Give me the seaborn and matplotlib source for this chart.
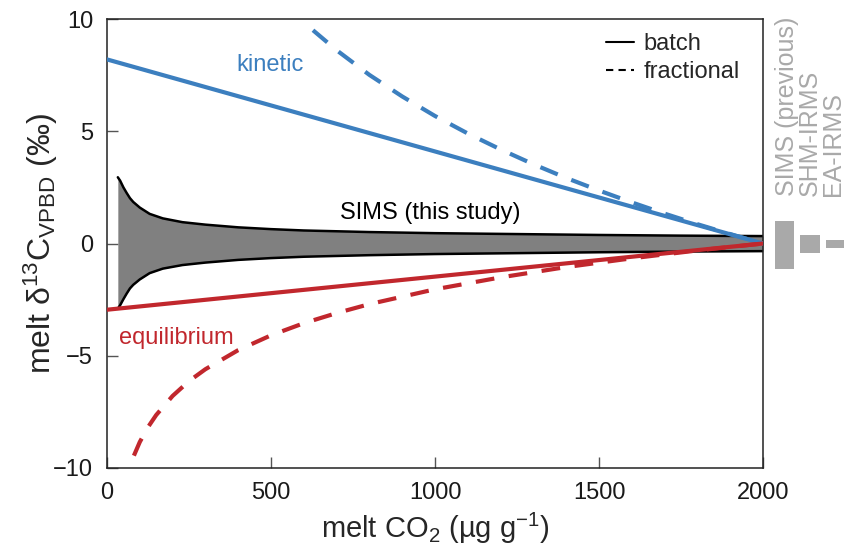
import matplotlib
matplotlib.use("Agg")
import matplotlib.pyplot as plt
import seaborn as sns
import numpy as np
from matplotlib.lines import Line2D

# ---------------- data ----------------
kin_batch_x = [0, 2000]
kin_batch_y = [8.2, 0.0]

kin_frac_x = [628, 700, 800, 900, 1000, 1100, 1200, 1300, 1400, 1500, 1600, 1700, 1800, 1900, 2000]
kin_frac_y = [9.50, 8.61, 7.51, 6.55, 5.68, 4.90, 4.19, 3.53, 2.92, 2.36, 1.83, 1.33, 0.86, 0.42, 0.0]

eq_batch_x = [0, 2000]
eq_batch_y = [-2.95, 0.0]

eq_frac_x = [82, 100, 125, 150, 200, 250, 300, 400, 500, 600, 700, 800, 1000, 1200, 1400, 1600, 1800, 2000]
eq_frac_y = [-9.45, -8.84, -8.18, -7.64, -6.79, -6.13, -5.60, -4.75, -4.09, -3.55, -3.10, -2.70, -2.04, -1.51, -1.05, -0.66, -0.31, 0.0]

sims_x = [33, 40, 50, 60, 70, 80, 100, 130, 170, 230, 300, 400, 500, 600, 800, 1000, 1250, 1500, 1750, 2000]
sims_hi = [2.95, 2.80, 2.50, 2.25, 2.02, 1.85, 1.60, 1.32, 1.12, 0.95, 0.84, 0.72, 0.64, 0.58, 0.51, 0.46, 0.42, 0.38, 0.35, 0.33]
sims_lo = [-2.90, -2.75, -2.48, -2.23, -2.00, -1.84, -1.60, -1.32, -1.12, -0.96, -0.85, -0.73, -0.65, -0.59, -0.52, -0.47, -0.43, -0.39, -0.36, -0.34]

method_labels = ["SIMS (previous)", "SHM-IRMS", "EA-IRMS"]
method_lo = [-1.15, -0.42, -0.22]
method_hi = [1.00, 0.38, 0.17]

x_ticks = [0, 500, 1000, 1500, 2000]
y_ticks = [-10, -5, 0, 5, 10]

# ---------------- style ----------------
sns.set_theme(style="ticks")
plt.rcParams['font.family'] = ['Liberation Sans', 'DejaVu Sans']
plt.rcParams['mathtext.fontset'] = 'custom'
plt.rcParams['mathtext.rm'] = 'Liberation Sans'
plt.rcParams['mathtext.it'] = 'Liberation Sans:italic'
plt.rcParams['mathtext.default'] = 'regular'

BLUE = "#3c7fbf"
RED = "#c1272d"
GRAY = "#a9a9a9"

fig = plt.figure(figsize=(8.44, 5.51), dpi=100)
ax = fig.add_axes([107/844, 1-468/551, 656/844, 449/551])

# SIMS band
ax.fill_between(sims_x, sims_lo, sims_hi, color="#808080", lw=0, zorder=1)
sns.lineplot(x=sims_x, y=sims_hi, ax=ax, color="black", lw=1.8, zorder=2)
sns.lineplot(x=sims_x, y=sims_lo, ax=ax, color="black", lw=1.8, zorder=2)

dash = (0, (4.5, 3.5))
sns.lineplot(x=kin_batch_x, y=kin_batch_y, ax=ax, color=BLUE, lw=3, zorder=3)
sns.lineplot(x=kin_frac_x, y=kin_frac_y, ax=ax, color=BLUE, lw=3, zorder=3, linestyle=dash)
sns.lineplot(x=eq_batch_x, y=eq_batch_y, ax=ax, color=RED, lw=3, zorder=3)
sns.lineplot(x=eq_frac_x, y=eq_frac_y, ax=ax, color=RED, lw=3, zorder=3, linestyle=dash)

ax.set_xlim(0, 2000)
ax.set_ylim(-10, 10)
ax.set_xticks(x_ticks)
ax.set_yticks(y_ticks)
ax.tick_params(direction="in", length=8, width=1, color="#555555",
               labelsize=17, labelcolor="#1a1a1a", pad=10)
for s in ax.spines.values():
    s.set_visible(True)
    s.set_linewidth(1.1)
    s.set_color("#222222")

ax.set_xlabel("melt CO$_2$ (\u00b5g g$^{-1}$)", fontsize=21, va="top")
ax.set_ylabel("melt \u03b4$^{13}$C$_{VPBD}$ (\u2030)", fontsize=23)
ax.xaxis.set_label_coords(0.5, -0.095)
ax.yaxis.set_label_coords(-0.072, 0.5)

ax.text(497, 7.95, "kinetic", color=BLUE, fontsize=17, ha="center", va="center")
ax.text(210, -4.2, "equilibrium", color=RED, fontsize=17, ha="center", va="center")
ax.text(985, 1.36, "SIMS (this study)", color="black", fontsize=17, ha="center", va="center")

handles = [Line2D([], [], color="black", lw=1.5),
           Line2D([], [], color="black", lw=1.5, linestyle=(0, (3.5, 2.5)))]
ax.legend(handles, ["batch", "fractional"], loc="upper right", frameon=False,
          fontsize=17, handlelength=1.2, handletextpad=0.4, labelspacing=0.25,
          borderaxespad=0.3, bbox_to_anchor=(0.99, 1.005))

# side axes with previous methods
ax2 = fig.add_axes([771/844, 1-468/551, 73/844, 449/551], sharey=ax)
pos = [0, 1, 2]
heights = [h - l for h, l in zip(method_hi, method_lo)]
ax2.bar(pos, heights, bottom=method_lo, width=0.76, color=GRAY, lw=0)
ax2.set_xlim(-0.53, 2.33)
ax2.set_ylim(-10, 10)
ax2.axis("off")
for p, lab in zip([0.1, 1.0, 1.9], method_labels):
    ax2.text(p, 2.1, lab, rotation=90, ha="center", va="bottom",
             fontsize=18, color=GRAY)

fig.savefig("out.png", dpi=100)
